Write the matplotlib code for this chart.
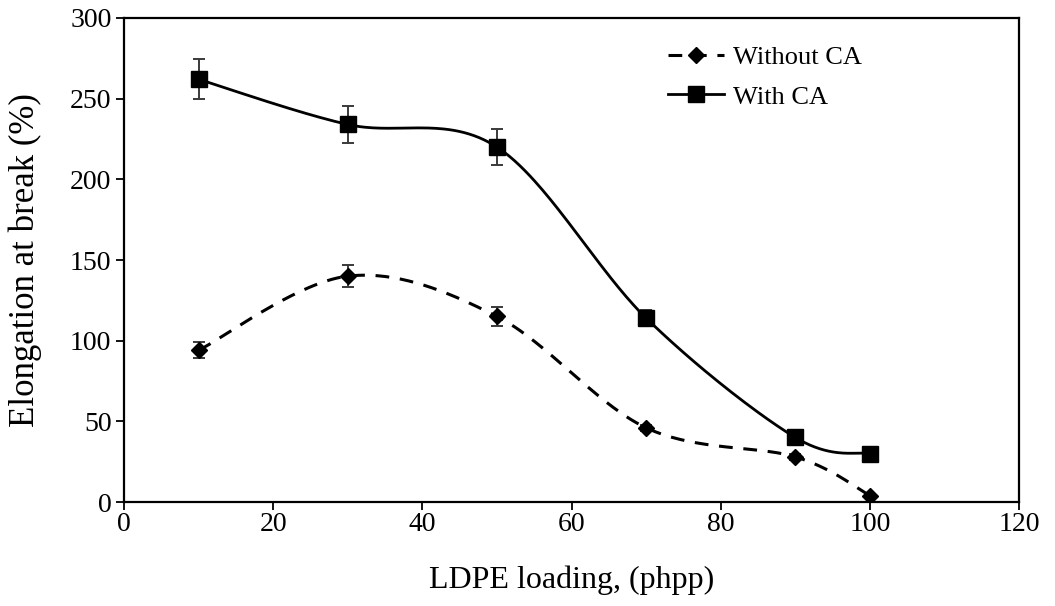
import numpy as np
import matplotlib
matplotlib.use("Agg")
import matplotlib.pyplot as plt

plt.rcParams['font.family'] = ['Liberation Serif', 'DejaVu Serif']

loading = [10, 30, 50, 70, 90, 100]
without_ca = [94, 140, 115, 46, 28, 4]
without_ca_err = [5, 7, 6, 2, 2, 0]
with_ca = [262, 234, 220, 114, 40, 30]
with_ca_err = [12.5, 11.5, 11, 5, 2, 0]


def smooth_curve(xs, ys, n=60):
    """Piecewise cubic Bezier through the points (Catmull-Rom control points)."""
    p = np.column_stack([xs, ys]).astype(float)
    ext = np.vstack([p[0], p, p[-1]])
    out = []
    t = np.linspace(0, 1, n)[:, None]
    for i in range(len(p) - 1):
        p0, p1, p2, p3 = ext[i], ext[i + 1], ext[i + 2], ext[i + 3]
        c1 = p1 + (p2 - p0) / 6.0
        c2 = p2 - (p3 - p1) / 6.0
        seg = ((1 - t) ** 3) * p1 + 3 * ((1 - t) ** 2) * t * c1 + 3 * (1 - t) * t ** 2 * c2 + t ** 3 * p2
        out.append(seg if i == 0 else seg[1:])
    seg = np.vstack(out)
    return seg[:, 0], seg[:, 1]


fig = plt.figure(figsize=(10.55, 6.06), dpi=100)
ax = fig.add_axes([0.1175, 0.1716, 0.8485, 0.7987])

DASH = (4.5, 3.5)

# Smoothed connecting lines
sx, sy = smooth_curve(loading, without_ca)
ax.plot(sx, sy, color='black', lw=2.2, dashes=DASH, zorder=2)
sx, sy = smooth_curve(loading, with_ca)
ax.plot(sx, sy, color='black', lw=2, zorder=2)

# Error bars and markers
for yv, ev in ((without_ca, without_ca_err), (with_ca, with_ca_err)):
    ax.errorbar(loading, yv, yerr=ev, fmt='none', ecolor='#3a3a3a',
                elinewidth=1.4, capsize=4.5, capthick=1.4, zorder=3)
ax.plot(loading, without_ca, linestyle='none', marker='D', ms=8.5, color='black', zorder=4)
ax.plot(loading, with_ca, linestyle='none', marker='s', ms=11.5, color='black', zorder=4)

# Legend proxies
h1, = ax.plot([], [], color='black', lw=2.2, dashes=DASH, marker='D', ms=8.5)
h2, = ax.plot([], [], color='black', lw=2, marker='s', ms=11.5)
ax.legend([h1, h2], ['Without CA', 'With CA'], loc='upper left',
          bbox_to_anchor=(0.5905, 0.975), frameon=False, fontsize=19,
          handlelength=2.1, handletextpad=0.35, labelspacing=0.6,
          borderaxespad=0.2)

ax.set_xlim(0, 120)
ax.set_ylim(0, 300)
ax.set_xticks(np.arange(0, 121, 20))
ax.set_yticks(np.arange(0, 301, 50))
ax.tick_params(axis='both', direction='out', length=6, width=1.3, labelsize=20, pad=3)
ax.tick_params(axis='x', pad=1.5)
for s in ax.spines.values():
    s.set_linewidth(1.6)

ax.set_xlabel('LDPE loading, (phpp)', fontsize=23, labelpad=20)
ax.set_ylabel('Elongation at break (%)', fontsize=25, labelpad=20)

fig.savefig('out.png', dpi=100)
